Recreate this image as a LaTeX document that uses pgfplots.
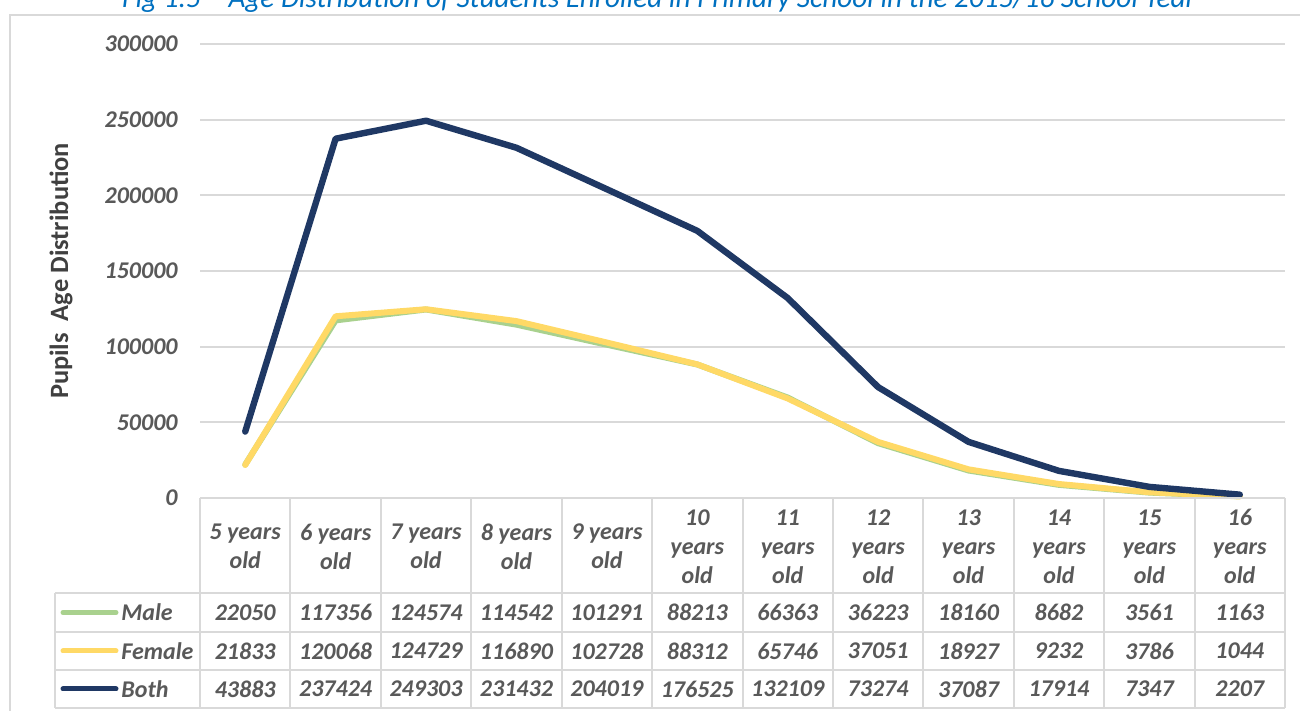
\documentclass[border=0pt]{standalone}
\usepackage{pgfplots}
\pgfplotsset{compat=1.18}
\usepackage{pgfplotstable}
\usepackage{fontspec}
\setmainfont{Carlito}
\definecolor{male}{HTML}{A9D18E}
\definecolor{female}{HTML}{FFD966}
\definecolor{both}{HTML}{1F3864}
\definecolor{gridgray}{HTML}{D9D9D9}
\definecolor{txtgray}{HTML}{595959}
\definecolor{labelgray}{HTML}{404040}
\definecolor{titleblue}{HTML}{0070C0}

\pgfplotstableread{
x male female both
0 22050 21833 43883
1 117356 120068 237424
2 124574 124729 249303
3 114542 116890 231432
4 101291 102728 204019
5 88213 88312 176525
6 66363 65746 132109
7 36223 37051 73274
8 18160 18927 37087
9 8682 9232 17914
10 3561 3786 7347
11 1163 1044 2207
}\agedata

\begin{document}
\begin{tikzpicture}
\useasboundingbox (0,0) rectangle (650pt,355.5pt);
\begin{axis}[
  at={(100pt,106.5pt)}, anchor=south west,
  scale only axis, width=542.5pt, height=227pt,
  xmin=-0.5, xmax=11.5, ymin=0, ymax=300000,
  xtick={0,...,11},
  xticklabels={{5 years\\old},{6 years\\old},{7 years\\old},{8 years\\old},{9 years\\old},{10\\years\\old},{11\\years\\old},{12\\years\\old},{13\\years\\old},{14\\years\\old},{15\\years\\old},{16\\years\\old}},
  ytick={0,50000,100000,150000,200000,250000,300000},
  ymajorgrids, grid style={color=gridgray, line width=1pt},
  axis line style={draw=none},
  tick style={draw=none},
  scaled y ticks=false,
  /pgf/number format/fixed,
  /pgf/number format/precision=0,
  /pgf/number format/1000 sep={},
  /pgf/number format/assume math mode=true,
  yticklabel style={font=\fontsize{12}{14}\selectfont\bfseries\itshape, text=txtgray, inner sep=0pt, anchor=east, xshift=-11pt, /pgf/number format/fixed, /pgf/number format/1000 sep={}},
  xticklabel style={font=\fontsize{12}{14.5}\selectfont\bfseries\itshape, text=txtgray, align=center, anchor=center, yshift=-24.25pt, inner sep=0pt},
  clip=false,
]
\addplot[male, line width=3pt, line join=round, line cap=round] table[x=x,y=male]{\agedata};
\addplot[female, line width=3pt, line join=round, line cap=round] table[x=x,y=female]{\agedata};
\addplot[both, line width=3.2pt, line join=round, line cap=round] table[x=x,y=both]{\agedata};
\end{axis}
\begin{scope}[x=0.5pt, y=-0.5pt, shift={(0pt,355.5pt)}]
  \draw[gridgray, line width=1pt] (10,730) -- (10,15) -- (1320,15);
  \draw[gridgray, line width=1pt] (200,498) -- (1285,498);
  \foreach \k in {0,...,12} \draw[gridgray, line width=1pt] ({200+90.4167*\k},498) -- ({200+90.4167*\k},708);
  \foreach \yy in {593,632,670,708} \draw[gridgray, line width=1pt] (55,\yy) -- (1285,\yy);
  \draw[gridgray, line width=1pt] (55,593) -- (55,708);
  \draw[male, line width=2.5pt, line cap=round] (63,612.5) -- (116,612.5);
  \draw[female, line width=2.5pt, line cap=round] (63,651) -- (116,651);
  \draw[both, line width=2.5pt, line cap=round] (63,689) -- (116,689);
  \tikzset{tab/.style={font=\fontsize{12}{14}\selectfont\bfseries\itshape, text=txtgray, inner sep=0pt}}
  \node[tab, anchor=west] at (121,612.5) {Male};
  \node[tab, anchor=west] at (121,651) {Female};
  \node[tab, anchor=west] at (121,689) {Both};
  \foreach \v [count=\i from 0] in {22050,117356,124574,114542,101291,88213,66363,36223,18160,8682,3561,1163}
    \node[tab] at ({245.2+90.4167*\i},612.5) {\v};
  \foreach \v [count=\i from 0] in {21833,120068,124729,116890,102728,88312,65746,37051,18927,9232,3786,1044}
    \node[tab] at ({245.2+90.4167*\i},651) {\v};
  \foreach \v [count=\i from 0] in {43883,237424,249303,231432,204019,176525,132109,73274,37087,17914,7347,2207}
    \node[tab] at ({245.2+90.4167*\i},689) {\v};
  \node[font=\fontsize{14.6}{16}\selectfont\itshape, text=titleblue, anchor=base, inner sep=0pt] at (659,7.5) {Fig 1.5 – Age Distribution of Students Enrolled in Primary School in the 2015/16 School Year};
  \node[rotate=90, font=\fontsize{13.2}{15}\selectfont\bfseries, text=labelgray, inner sep=0pt] at (61,271) {Pupils\ \ Age Distribution};
\end{scope}
\end{tikzpicture}
\end{document}
